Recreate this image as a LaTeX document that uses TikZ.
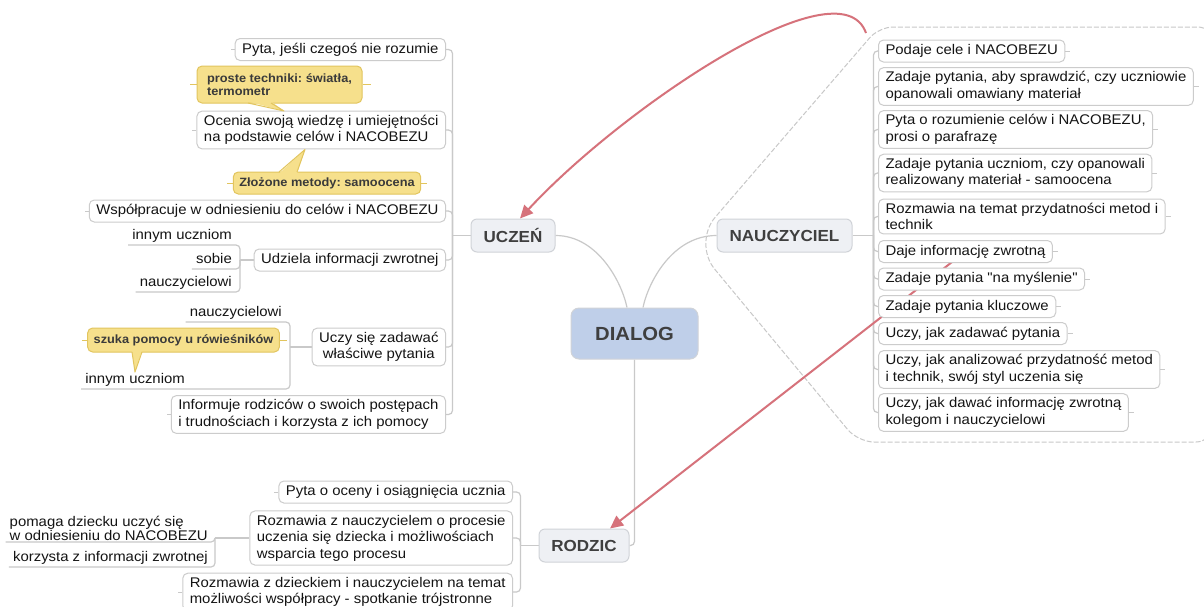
\documentclass[tikz,border=0pt]{standalone}
\usepackage{fontspec}
\setmainfont{Liberation Sans}[FakeStretch=1.065,Ligatures=TeXOff]
\usetikzlibrary{arrows.meta,backgrounds}
\definecolor{cgray}{HTML}{C9C9C9}
\definecolor{bgray}{HTML}{CCCCCC}
\definecolor{tgray}{HTML}{D0D3D8}
\definecolor{tfill}{HTML}{EEF0F4}
\definecolor{dfill}{HTML}{BFCFE9}
\definecolor{ttxt}{HTML}{3F3F3F}
\definecolor{txt}{HTML}{141414}
\definecolor{redc}{HTML}{D6727B}
\definecolor{yfill}{HTML}{F6E08C}
\definecolor{yborder}{HTML}{E2C55E}
\definecolor{ytxt}{HTML}{3A3A3A}
\definecolor{dgray}{HTML}{C8C8C8}
\newcommand\bodyfs{\fontsize{14}{16.5}\selectfont}
\frenchspacing
\begin{document}
\begin{tikzpicture}[x=1pt,y=-1pt,
  conn/.style={draw=cgray, line width=1.2pt},
  jconn/.style={conn, rounded corners=4pt},
  stub/.style={draw=cgray, line width=1pt},
  ystub/.style={draw=yborder, line width=1pt},
  cbox/.style={draw=bgray, line width=1pt, fill=white, rounded corners=5pt, inner xsep=7pt, inner ysep=4pt, minimum height=22pt, font=\bodyfs, text=txt, align=left},
  tbox/.style={draw=tgray, line width=1pt, fill=tfill, rounded corners=6pt, inner sep=0pt, font=\fontsize{16}{19}\selectfont\bfseries, text=ttxt},
  ybox/.style={draw=yborder, line width=1pt, fill=yfill, rounded corners=5pt, inner xsep=6pt, inner ysep=3pt, font=\fontsize{12}{13.5}\selectfont\bfseries, text=ytxt, align=left},
  ulabm/.style={inner xsep=4pt, inner ysep=1.5pt, font=\bodyfs, text=txt, anchor=south east},
  ulab/.style={ulabm, text height=10.5pt, text depth=3.5pt},
  redarrow/.style={draw=redc, line width=2pt, -{Triangle[length=13pt,width=12pt]}},
  tailline/.style={draw=yborder, line width=1pt, line join=round}
]
\useasboundingbox (0,0) rectangle (1204,606);

% central and main topics
\node[tbox, fill=dfill, minimum width=127pt, minimum height=51pt, rounded corners=8pt, font=\fontsize{19}{22}\selectfont\bfseries] (dia) at (634.5,333.5) {DIALOG};
\node[tbox, minimum width=84pt, minimum height=33pt] (ucz) at (513,235.5) {UCZEŃ};
\node[tbox, minimum width=135pt, minimum height=33pt] (nau) at (784.5,235.5) {NAUCZYCIEL};
\node[tbox, minimum width=90pt, minimum height=33pt] (rod) at (584,545.5) {RODZIC};

% UCZEN children
\node[cbox, anchor=east] (c1) at (446,49.5) {Pyta, jeśli czegoś nie rozumie};
\node[cbox, anchor=east] (c2) at (446,130) {Ocenia swoją wiedzę i umiejętności\\na podstawie celów i NACOBEZU};
\node[cbox, anchor=east] (c3) at (446,211) {Współpracuje w odniesieniu do celów i NACOBEZU};
\node[cbox, anchor=east] (c4) at (446,260) {Udziela informacji zwrotnej};
\node[cbox, anchor=east, align=center] (c5) at (446,347) {Uczy się zadawać\\właściwe pytania};
\node[cbox, anchor=east] (c6) at (446,414.5) {Informuje rodziców o swoich postępach\\i trudnościach i korzysta z ich pomocy};

\node[ulab] (s1) at (236,245) {innym uczniom};
\node[ulab] (s2) at (236,269) {sobie};
\node[ulab] (s3) at (236,292) {nauczycielowi};
\node[ulab] (s4) at (286,322) {nauczycielowi};
\node[ulab] (s6) at (189,389) {innym uczniom};

% callouts
\node[ybox, minimum height=37pt, minimum width=165pt] (k1) at (279.5,84.5) {proste techniki: światła,\\termometr};
\node[ybox, minimum height=22pt] (k2) at (327,183) {Złożone metody: samoocena};
\node[ybox, minimum height=24pt] (k3) at (183.5,340) {szuka pomocy u rówieśników};

\fill[yfill] (248,101.5) -- (284,111) -- (271,101.5) -- cycle;
\draw[tailline] (248,103) -- (284,111) -- (271,103);
\fill[yfill] (279,173.5) -- (305,149.5) -- (297,173.5) -- cycle;
\draw[tailline] (279,172) -- (305,149.5) -- (297,172);
\fill[yfill] (132,350.5) -- (135,372) -- (142,350.5) -- cycle;
\draw[tailline] (132,352) -- (135,372) -- (142,352);

\draw[ystub] (k1.west) -- ++(-7,0);
\draw[ystub] (k1.east) -- ++(8,0);
\draw[ystub] (k2.west) -- ++(-6,0);
\draw[ystub] (k2.east) -- ++(6,0);
\draw[ystub] (k3.west) -- ++(-5,0);
\draw[ystub] (k3.east) -- ++(7,0);

% NAUCZYCIEL children
\node[cbox, anchor=west] (n1) at (878,51) {Podaje cele i NACOBEZU};
\node[cbox, anchor=west] (n2) at (878,86.5) {Zadaje pytania, aby sprawdzić, czy uczniowie\\opanowali omawiany materiał};
\node[cbox, anchor=west] (n3) at (878,129.5) {Pyta o rozumienie celów i NACOBEZU,\\prosi o parafrazę};
\node[cbox, anchor=west] (n4) at (878,173) {Zadaje pytania uczniom, czy opanowali\\realizowany materiał - samoocena};
\node[cbox, anchor=west] (n5) at (878,216.5) {Rozmawia na temat przydatności metod i\\technik};
\node[cbox, anchor=west] (n6) at (878,251.5) {Daje informację zwrotną};
\node[cbox, anchor=west] (n7) at (878,279) {Zadaje pytania "na myślenie"};
\node[cbox, anchor=west] (n8) at (878,306.5) {Zadaje pytania kluczowe};
\node[cbox, anchor=west] (n9) at (878,333.5) {Uczy, jak zadawać pytania};
\node[cbox, anchor=west] (n10) at (878,369.5) {Uczy, jak analizować przydatność metod\\i technik, swój styl uczenia się};
\node[cbox, anchor=west] (n11) at (878,412.5) {Uczy, jak dawać informację zwrotną\\kolegom i nauczycielowi};

% RODZIC children
\node[cbox, anchor=east] (r1) at (513,492) {Pyta o oceny i osiągnięcia ucznia};
\node[cbox, anchor=east] (r2) at (513,538) {Rozmawia z nauczycielem o procesie\\uczenia się dziecka i możliwościach\\wsparcia tego procesu};
\node[cbox, anchor=east] (r3) at (513,592) {Rozmawia z dzieckiem i nauczycielem na temat\\możliwości współpracy - spotkanie trójstronne};

\node[ulabm, align=left, font=\fontsize{14}{13.5}\selectfont] (q1) at (212,542) {pomaga dziecku uczyć się\\w odniesieniu do NACOBEZU};
\node[ulab] (q2) at (212,567) {korzysta z informacji zwrotnej};

% small stubs
\foreach \n in {c1,c2,c3,c6,r1,r3} \draw[stub] (\n.west) -- ++(-4,0);
\foreach \n in {n1,n2,n3,n4,n5,n6,n7,n8,n9,n10,n11} \draw[stub] (\n.east) -- ++(5,0);

\coordinate (uj) at ([xshift=-18pt]ucz.west);
\coordinate (nj) at ([xshift=21pt]nau.east);
\coordinate (rj) at ([xshift=-18pt]rod.west);
\coordinate (uj4) at (240,260);
\coordinate (uj5) at (290,347);
\coordinate (rj2) at (215,538);
\coordinate (bstart) at (866,33);

\begin{pgfonlayer}{background}
\fill[white] (0,0) rectangle (1204,606);
% dashed boundary
\draw[dgray, line width=1pt, dash pattern=on 5pt off 2pt]
  (1212,200) [rounded corners=14pt] -- (1212,27) -- (879,27) [rounded corners=34pt] -- (693,243) [rounded corners=16pt] -- (858,442) -- (1212,442) -- (1212,200);
% main connectors
\draw[conn] ([xshift=-7.5pt]dia.north) .. controls (622,283) and (598,235.5) .. (ucz.east);
\draw[conn] ([xshift=8.5pt]dia.north) .. controls (648,283) and (672,235.5) .. (nau.west);
\draw[jconn] (dia.south) |- (rod.east);
% UCZEN tree
\draw[conn] (ucz.west) -- (uj);
\foreach \n in {c1,c2,c3,c4,c5,c6} \draw[jconn] (uj) |- (\n.east);
\draw[conn] (uj4) -- (c4.west);
\foreach \n in {s1,s2,s3} \draw[jconn] (uj4) |- (\n.south west);
\draw[conn] (uj5) -- (c5.west);
\foreach \n in {s4,s6} \draw[jconn] (uj5) |- (\n.south west);
% NAUCZYCIEL tree
\draw[conn] (nau.east) -- (nj);
\foreach \n in {n1,n2,n3,n4,n5,n6,n7,n8,n9,n10,n11} \draw[jconn] (nj) |- (\n.west);
% RODZIC tree
\draw[conn] (rod.west) -- (rj);
\foreach \n in {r1,r2,r3} \draw[jconn] (rj) |- (\n.east);
\draw[conn] (rj2) -- (r2.west);
\foreach \n in {q1,q2} \draw[jconn] (rj2) |- (\n.south west);
% red relationship arrows
\draw[redarrow] (n6.center) -- ([xshift=26pt]rod.north);
\draw[redarrow] (bstart) .. controls (840,-40) and (620,110) .. ([xshift=7pt]ucz.north);
\end{pgfonlayer}
\end{tikzpicture}
\end{document}
